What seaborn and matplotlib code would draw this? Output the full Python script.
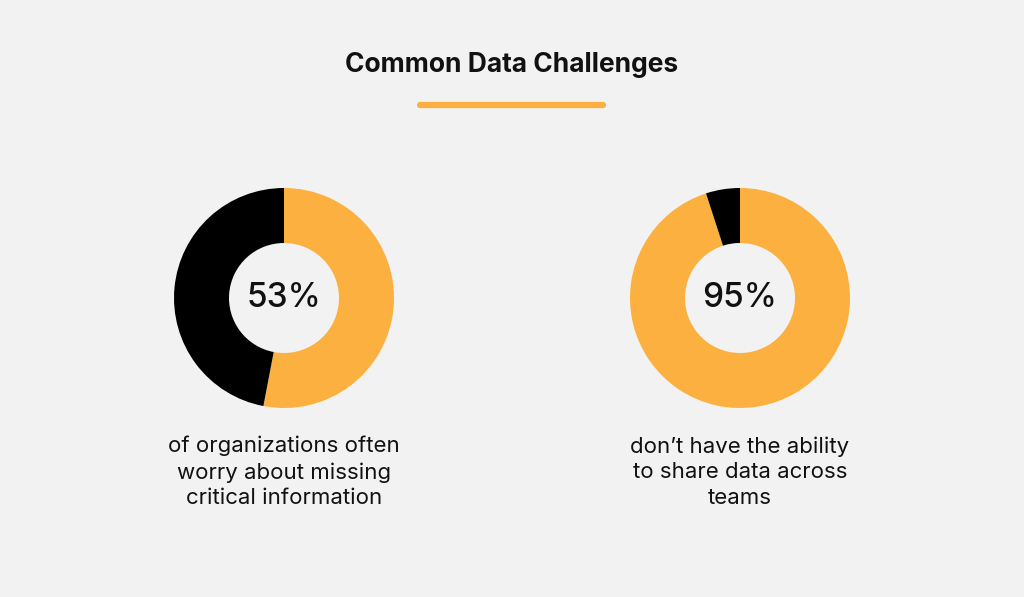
import matplotlib.pyplot as plt
import seaborn as sns

title = "Common Data Challenges"
percents = [53, 95]
captions = [
    "of organizations often\nworry about missing\ncritical information",
    "don\u2019t have the ability\nto share data across\nteams",
]
centers_x = [284, 740]  # px

orange = "#fbb040"
black = "#000000"
bg = "#f2f2f2"


def main():
    sns.set_theme(style="white")
    plt.rcParams['font.family'] = ['Inter', 'DejaVu Sans']

    W, H = 1024, 597
    fig = plt.figure(figsize=(W / 100, H / 100), dpi=100, facecolor=bg)

    fig.text(0.5, 1 - 65 / H, title, ha="center", va="center",
             fontsize=19, fontweight="bold", color="#111111")
    fig.add_artist(plt.Line2D([420 / W, 603 / W], [1 - 105 / H] * 2,
                              color=orange, linewidth=4.5))

    r = 110
    cy = 298
    for pct, cap, cx in zip(percents, captions, centers_x):
        ax = fig.add_axes([(cx - r) / W, 1 - (cy + r) / H, 2 * r / W, 2 * r / H])
        ax.pie([pct, 100 - pct], colors=[orange, black], startangle=90,
               counterclock=False, radius=1,
               wedgeprops=dict(width=0.5, linewidth=0))
        ax.set_xlim(-1, 1)
        ax.set_ylim(-1, 1)
        ax.set_aspect("auto")
        ax.axis("off")
        ax.text(0, 0, f"{pct}%", ha="center", va="center",
                fontsize=24, fontweight="medium", color="#111111")
        fig.text(cx / W, 1 - 472 / H, cap, ha="center", va="center",
                 fontsize=16, color="#111111", linespacing=1.35)

    fig.savefig("out.png", dpi=100, facecolor=bg)


if __name__ == "__main__":
    main()
